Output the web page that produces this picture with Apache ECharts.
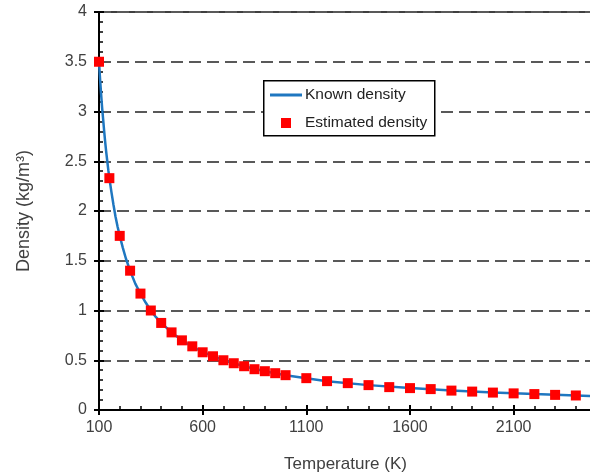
<!DOCTYPE html>
<html>
<head>
<meta charset="utf-8">
<script src="https://cdn.jsdelivr.net/npm/echarts@6/dist/echarts.min.js"></script>
<style>
html,body{margin:0;padding:0;background:#fff;}
#c{width:590px;height:474px;}
</style>
</head>
<body>
<div id="c"></div>
<script>
// Estimated density points
var estT = [100,150,200,250,300,350,400,450,500,550,600,650,700,750,800,850,900,950,1000,
            1100,1200,1300,1400,1500,1600,1700,1800,1900,2000,2100,2200,2300,2400];
var estRho = [3.5,2.33,1.75,1.40,1.17,1.00,0.875,0.78,0.70,0.64,0.58,0.54,0.50,0.47,0.44,0.41,0.39,0.37,0.35,
              0.32,0.29,0.27,0.25,0.23,0.22,0.21,0.195,0.185,0.175,0.167,0.16,0.152,0.146];
// Known density curve
var knownT = [100,105,110,115,120,125,130,135,140,145,150,160,170,180,190,200,215,230,250,275,300,325,350,
              375,400,450,500,550,600,700,800,900,1000,1200,1400,1600,1800,2000,2200,2478];
var knownRho = [3.5,3.33,3.18,3.04,2.92,2.80,2.69,2.59,2.50,2.41,2.33,2.19,2.06,1.94,1.84,1.75,1.63,1.52,1.40,1.27,1.17,1.08,1.00,
                0.933,0.875,0.78,0.70,0.636,0.583,0.50,0.44,0.39,0.35,0.29,0.25,0.22,0.195,0.175,0.16,0.141];
var xTicks = [100,600,1100,1600,2100];
var yTicks = [0,0.5,1,1.5,2,2.5,3,3.5,4];
var names = ['Known density','Estimated density'];

function zip(a,b){return a.map(function(v,i){return [v,b[i]];});}

var font = 'Liberation Sans, Arial, sans-serif';
var chart = echarts.init(document.getElementById('c'));
var xBase = {
  type:'value', min:100, max:2478, interval:500, gridIndex:0
};
chart.setOption({
  animation:false,
  backgroundColor:'#fff',
  grid:{left:99, top:12, bottom:64, right:-2, outerBoundsMode:'none', containLabel:false,
        show:true, borderColor:'#000', borderWidth:1.5, backgroundColor:'transparent'},
  xAxis:[
    Object.assign({}, xBase, {
      name:'Temperature (K)', nameLocation:'middle', nameGap:46,
      nameTextStyle:{fontFamily:font, fontSize:17, color:'#404040'},
      axisLine:{show:true, lineStyle:{color:'#000', width:2}},
      axisTick:{show:true, inside:false, length:5, lineStyle:{color:'#000', width:2}},
      minorTick:{show:false},
      axisLabel:{fontFamily:font, fontSize:16, color:'#404040', margin:10,
        customValues: xTicks, formatter:function(v){return String(v);}},
      splitLine:{show:false}
    }),
    Object.assign({}, xBase, {
      position:'bottom',
      axisLine:{show:false},
      axisTick:{show:true, inside:true, length:5, lineStyle:{color:'#000', width:2}},
      minorTick:{show:true, splitNumber:5, length:4, lineStyle:{color:'#000', width:1.5}},
      axisLabel:{show:false},
      splitLine:{show:false}
    })
  ],
  yAxis:[
    {
      type:'value', min:0, max:4, interval:0.5,
      name:'Density (kg/m\u00B3)', nameLocation:'middle', nameGap:66,
      nameTextStyle:{fontFamily:font, fontSize:18, color:'#404040'},
      axisLine:{show:true, lineStyle:{color:'#000', width:2}},
      axisTick:{show:true, inside:false, length:5, lineStyle:{color:'#000', width:2}},
      axisLabel:{fontFamily:font, fontSize:16, color:'#404040', margin:12,
        formatter:function(v){return yTicks.indexOf(v)>=0 ? String(v) : '';}},
      splitLine:{show:true, lineStyle:{color:'#595959', width:1.8, type:[12,6]}}
    },
    {
      type:'value', min:0, max:4, interval:0.5, position:'left',
      axisLine:{show:false},
      axisTick:{show:true, inside:true, length:5, lineStyle:{color:'#000', width:2}},
      minorTick:{show:true, splitNumber:5, length:4, lineStyle:{color:'#000', width:1.5}},
      axisLabel:{show:false},
      splitLine:{show:false}
    }
  ],
  graphic:[
    {type:'rect', left:263, top:80, z:3, shape:{width:171, height:55},
     style:{fill:'#fff', stroke:'#000', lineWidth:1.5}}
  ],
  legend:[
    {data:[{name:names[0], icon:'rect'}], left:270, top:87, padding:0, itemWidth:32, itemHeight:3, itemGap:0, z:5,
     textStyle:{fontFamily:font, fontSize:15.5, color:'#222', padding:[0,0,0,-2]}},
    {data:[{name:names[1], icon:'rect'}], left:281, top:115, padding:0, itemWidth:10, itemHeight:10, z:5,
     itemStyle:{opacity:1},
     textStyle:{fontFamily:font, fontSize:15.5, color:'#222', padding:[0,0,0,9]}}
  ],
  series:[
    {name:names[0], type:'line', data:zip(knownT, knownRho), smooth:false,
     symbol:'none', lineStyle:{color:'#1f77c0', width:2.5}, itemStyle:{color:'#1f77c0'}, z:2},
    {name:names[1], type:'scatter', data:zip(estT, estRho), symbol:'rect', symbolSize:10,
     itemStyle:{color:'#ff0000', opacity:1}, z:3}
  ]
});
</script>
</body>
</html>
